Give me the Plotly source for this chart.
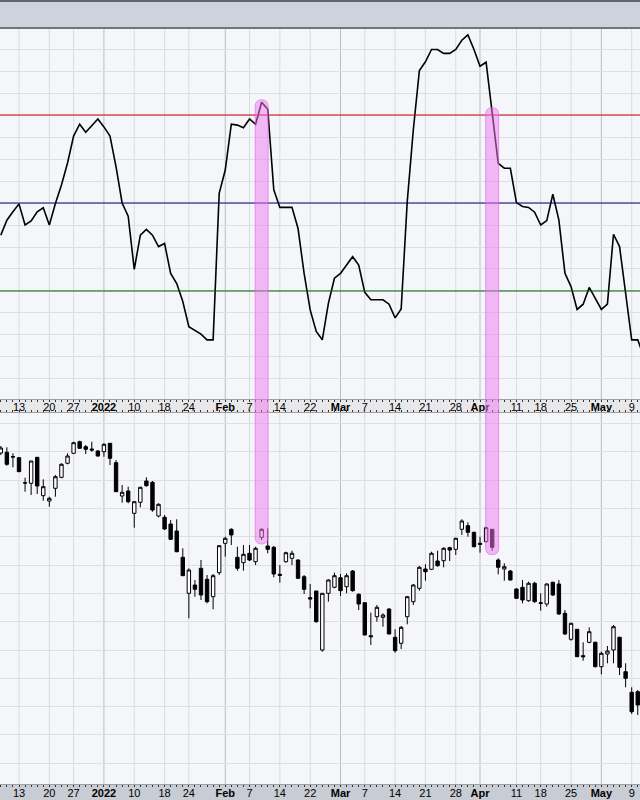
import pandas as pd
import plotly.graph_objects as go

# ---------------- data ----------------
holidays = ["2021-12-24", "2022-01-17", "2022-02-21", "2022-04-15"]
dates = [d.strftime("%Y-%m-%d") for d in pd.bdate_range("2021-12-08", "2022-05-11")
         if d.strftime("%Y-%m-%d") not in holidays]

opens = [547, 547.7, 543.3, 542.3, 517.3, 516.7, 542.7, 504.3, 499, 511.7,
         522.7, 536.7, 546.7, 558.3, 553.3, 551, 549, 548.3, 556.7, 537.3,
         504, 509, 486.7, 497.7, 519, 517.7, 484, 482.7, 476, 469,
         442.7, 406.7, 415, 431.7, 420.7, 403.3, 427.3, 456.7, 470.7, 442.7,
         437.3, 446.7, 438.3, 462.7, 454, 452.7, 425.7, 438.3, 441.7, 440,
         423.3, 402.3, 409, 350, 406.7, 412.7, 422.3, 413.3, 429, 405.7,
         397.3, 364.3, 383.3, 382.7, 391, 362.7, 356.7, 383.3, 398.3, 411.7,
         431, 430.7, 439, 439.3, 452.3, 450.7, 470.7, 474.3, 467.7, 456.7,
         458.3, 470.7, 440, 431, 429, 411, 412.7, 399.3, 416.7, 397.3,
         396, 417.7, 416, 386.7, 360.7, 370.7, 344.3, 357.7, 357.7, 333.3,
         346, 350, 362.7, 328.3, 307.7, 308.3]
highs = [554, 552.7, 546.7, 543, 522.3, 539, 543, 520.7, 503.3, 525,
         536.7, 546.7, 558.3, 559.3, 555, 558.3, 550, 556.7, 556.7, 540,
         515, 513.3, 498.3, 513.3, 522.7, 519, 496.7, 485, 480, 480.7,
         451.7, 431.7, 420, 440, 425, 426, 455, 463.3, 471.7, 453.3,
         455, 455, 453.3, 471.7, 471.7, 454, 435, 448.3, 449.3, 440.7,
         425, 416, 409, 406.7, 420.7, 427.3, 426, 426.7, 430, 406.7,
         397.3, 387.3, 395, 386.7, 391.7, 370.7, 374, 404, 416, 434,
         435.7, 448.3, 449.3, 452.7, 453.3, 462.3, 480.7, 477.7, 468.3, 463.3,
         473.3, 470.7, 441.7, 436.7, 430, 411.7, 420, 418.3, 418.3, 406.7,
         416.7, 418.3, 420, 390, 377.3, 371, 357.7, 372.7, 358.3, 348.3,
         354, 375, 363.3, 336.7, 312.7, 310]
lows = [545, 534.3, 532.7, 528, 508.3, 505, 506, 499.3, 493.3, 503.3,
        521.7, 535.7, 546, 551, 546, 548.3, 543.3, 543.3, 535, 508.3,
        497.3, 496.7, 472.3, 492.7, 513.3, 488.3, 482.7, 470, 460, 447.7,
        424, 381.7, 403.3, 400, 396.7, 390.7, 425, 443.3, 455, 429.3,
        429.3, 439, 435, 460, 446.7, 422.7, 417.3, 437.3, 435, 421,
        406, 391.7, 377.3, 348.3, 398.3, 411.7, 404, 406.7, 408.3, 390,
        365, 355, 378.3, 373.3, 365.7, 347.3, 351, 375.7, 395, 409.3,
        419.3, 430, 433.3, 432.7, 439, 445, 465, 463.3, 452.7, 447.3,
        457.7, 449.3, 425.7, 419.3, 419.3, 401, 396.7, 398.3, 397.3, 389.3,
        393.3, 404, 385, 365, 359.3, 343, 339.3, 356.7, 332.7, 325.7,
        336.7, 336.7, 325, 312.7, 286, 285]
closes = [552, 535.7, 543, 528.3, 517, 539, 514, 513.3, 501.7, 523.3,
          535.7, 544, 557.3, 551.7, 550.7, 550, 544, 555.7, 541.7, 508.3,
          507.7, 498.3, 498.3, 512.7, 514.3, 490, 495.7, 471, 460.7, 448.3,
          424.3, 430, 410.7, 405, 398.3, 424.3, 454.3, 461.7, 465, 431.7,
          445.7, 440, 451.7, 470.7, 450.7, 426, 424.7, 447.3, 446.7, 421.7,
          410.7, 401, 378.3, 406.7, 420, 424.3, 409.3, 424.3, 409.3, 396,
          365, 363.3, 392.7, 385, 366, 349.3, 372.7, 403.3, 415, 432.7,
          428.3, 446.7, 434.3, 451.7, 450, 461.7, 479, 467.7, 453.3, 455.7,
          472.3, 452.7, 432.7, 433.3, 420, 401.7, 400, 416.7, 398.3, 396.7,
          416, 405, 386, 366, 376.7, 343.3, 343.3, 368.3, 333.3, 346.7,
          349, 373.3, 332.7, 321.7, 288.3, 295]

oscillator = [42.7, 46.1, 48.0, 49.8, 45.0, 45.9, 48.0, 48.9, 45.0, 49.9,
              54.1, 59.1, 65.2, 67.9, 66.1, 67.7, 69.1, 67.3, 65.2, 58.2,
              50.0, 47.0, 34.9, 42.7, 44.0, 42.7, 40.1, 40.8, 34.0, 31.7,
              27.6, 21.9, 21.1, 20.2, 18.9, 18.9, 52.2, 57.5, 67.9, 67.7,
              67.1, 69.1, 67.9, 72.9, 71.3, 53.0, 49.0, 49.0, 49.0, 44.2,
              34.0, 25.7, 20.8, 18.9, 27.2, 32.9, 34.0, 35.9, 37.8, 35.9,
              29.7, 28.0, 28.0, 28.0, 27.0, 23.9, 25.9, 50.3, 66.6, 80.1,
              82.1, 84.9, 84.9, 84.0, 84.0, 84.9, 87.0, 88.2, 84.9, 81.1,
              82.0, 71.1, 59.0, 57.9, 57.9, 50.1, 49.2, 49.0, 47.9, 45.0,
              46.0, 52.0, 46.1, 34.0, 31.0, 25.8, 27.0, 30.8, 28.3, 25.8,
              27.0, 42.9, 40.1, 29.5, 18.9, 18.9, 15.0]

level_values = [70, 50, 30]
level_colors = ["#cc0000", "#000070", "#006400"]

tick_dates = ["2021-12-13", "2021-12-20", "2021-12-27", "2022-01-03", "2022-01-10",
              "2022-01-18", "2022-01-24", "2022-02-01", "2022-02-07", "2022-02-14",
              "2022-02-22", "2022-03-01", "2022-03-07", "2022-03-14", "2022-03-21",
              "2022-03-28", "2022-04-01", "2022-04-11", "2022-04-18", "2022-04-25",
              "2022-05-02", "2022-05-09"]
tick_labels = ["13", "20", "27", "2022", "10", "18", "24", "Feb", "7", "14", "22",
               "Mar", "7", "14", "21", "28", "Apr", "11", "18", "25", "May", "9"]
month_labels = {"2022", "Feb", "Mar", "Apr", "May"}

highlight_dates = ["2022-02-09", "2022-04-05"]

# ---------------- layout geometry ----------------
W, H = 640, 800
pos = {d: i for i, d in enumerate(dates)}
xi = list(range(len(dates)))


def py(px):
    return 1 - px / H


top_dom = [py(399), py(29)]
bot_dom = [py(784), py(413)]
x_range = [-0.132, 105.37]
osc_range = [5.45, 89.55]
price_range = [216, 587]

tickvals = [pos[d] for d in tick_dates]
ticktext = [f"<b>{t}</b>" if t in month_labels else t for t in tick_labels]

fig = go.Figure()

fig.add_trace(go.Scatter(x=xi, y=oscillator, mode="lines",
                         line=dict(color="#000000", width=1.6),
                         xaxis="x", yaxis="y", hoverinfo="skip", showlegend=False))

fig.add_trace(go.Candlestick(x=xi[:len(opens)], open=opens, high=highs, low=lows, close=closes,
                             xaxis="x2", yaxis="y2", whiskerwidth=0,
                             increasing=dict(line=dict(color="#000000", width=1), fillcolor="#ffffff"),
                             decreasing=dict(line=dict(color="#000000", width=1), fillcolor="#000000"),
                             showlegend=False))

shapes = []
# header band
shapes.append(dict(type="rect", xref="paper", yref="paper", x0=0, x1=1, y0=py(28), y1=1,
                   fillcolor="#cdd2dc", line=dict(width=0), layer="below"))
shapes.append(dict(type="rect", xref="paper", yref="paper", x0=0, x1=1, y0=py(2), y1=1,
                   fillcolor="#5f6472", line=dict(width=0), layer="below"))
shapes.append(dict(type="rect", xref="paper", yref="paper", x0=0, x1=1, y0=py(29), y1=py(27),
                   fillcolor="#70757f", line=dict(width=0), layer="below"))
# axis strips
shapes.append(dict(type="rect", xref="paper", yref="paper", x0=0, x1=1, y0=py(413), y1=py(399),
                   fillcolor="#e8e8ea", line=dict(width=0), layer="below"))
shapes.append(dict(type="rect", xref="paper", yref="paper", x0=0, x1=1, y0=0, y1=py(784),
                   fillcolor="#c8ccd4", line=dict(width=0), layer="below"))

# vertical grid lines (weekly light, month darker)
for d, t in zip(tick_dates, tick_labels):
    col = "#b9bdc6" if t in month_labels else "#d8dbe2"
    for xr, yr in (("x", "y domain"), ("x2", "y2 domain")):
        shapes.append(dict(type="line", xref=xr, yref=yr, x0=pos[d], x1=pos[d], y0=0, y1=1,
                           line=dict(color=col, width=1), layer="below"))

# oscillator levels
for v, c in zip(level_values, level_colors):
    shapes.append(dict(type="line", xref="paper", yref="y", x0=0, x1=1, y0=v, y1=v,
                       line=dict(color=c, width=1)))


# highlight capsules spanning both panels
def xp(v):
    return (v - x_range[0]) / (x_range[1] - x_range[0])


def yp_osc(v):
    return top_dom[0] + (v - osc_range[0]) / (osc_range[1] - osc_range[0]) * (top_dom[1] - top_dom[0])


def yp_price(v):
    return bot_dom[0] + (v - price_range[0]) / (price_range[1] - price_range[0]) * (bot_dom[1] - bot_dom[0])


for d in highlight_dates:
    i = pos[d]
    xc = xp(i)
    hw = 6.5 / W
    ry = 6.5 / H
    yt = yp_osc(oscillator[i]) + 2.5 / H
    yb = yp_price(lows[i]) - 4 / H
    xl, xr = xc - hw, xc + hw
    path = (f"M {xl},{yb + ry} L {xl},{yt - ry} Q {xl},{yt} {xc},{yt} Q {xr},{yt} {xr},{yt - ry} "
            f"L {xr},{yb + ry} Q {xr},{yb} {xc},{yb} Q {xl},{yb} {xl},{yb + ry} Z")
    shapes.append(dict(type="path", xref="paper", yref="paper", path=path,
                       fillcolor="rgba(238,120,238,0.5)",
                       line=dict(color="rgba(225,90,225,0.55)", width=1), layer="above"))

tickfont = dict(family="Arial, Liberation Sans, sans-serif", size=11, color="#000000")
xcommon = dict(range=x_range, tickmode="array", tickvals=tickvals, ticktext=ticktext,
               ticks="outside", ticklen=2, tickwidth=1, tickcolor="#333333",
               showgrid=False, zeroline=False, tickfont=tickfont,
               showline=True, linecolor="#a0a0a0", linewidth=1,
               minor=dict(tickmode="array", tickvals=xi, ticks="outside", ticklen=2,
                          tickwidth=1, tickcolor="#333333", showgrid=False))

fig.update_layout(
    width=W, height=H,
    margin=dict(l=0, r=0, t=0, b=0),
    paper_bgcolor="#f5f6fa", plot_bgcolor="#f5f6fa",
    showlegend=False,
    boxgap=0.2,
    xaxis=dict(domain=[0, 1], anchor="y", ticklabelstandoff=-4, **xcommon),
    xaxis2=dict(domain=[0, 1], anchor="y2", matches="x", mirror="ticks",
                rangeslider=dict(visible=False), ticklabelstandoff=-3, **xcommon),
    yaxis=dict(domain=top_dom, range=osc_range, showticklabels=False, ticks="",
               showgrid=True, gridcolor="#dcdfe6", gridwidth=1, tick0=0, dtick=5, zeroline=False),
    yaxis2=dict(domain=bot_dom, range=price_range, showticklabels=False, ticks="",
                showgrid=True, gridcolor="#dcdfe6", gridwidth=1, tick0=350, dtick=28.33, zeroline=False),
    shapes=shapes,
)

fig.write_html("out.html", config={"displayModeBar": False},
               post_script="document.body.style.margin='0';document.body.style.overflow='hidden';")
